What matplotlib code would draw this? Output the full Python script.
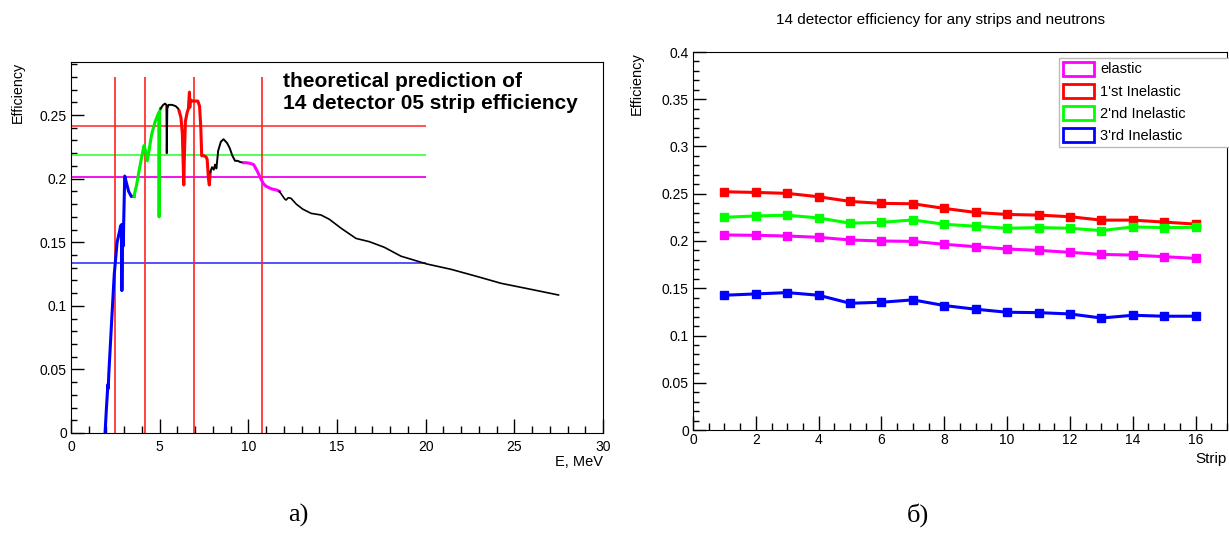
import matplotlib
matplotlib.use("Agg")
import matplotlib.pyplot as plt
from matplotlib.ticker import MultipleLocator, FuncFormatter
from matplotlib.patches import Patch

plt.rcParams["font.family"] = ["Liberation Sans", "DejaVu Sans"]

# ---- panel a): theoretical efficiency vs neutron energy, piece by piece ----
e_blue = [1.92, 2.0, 2.08, 2.10, 2.13, 2.3, 2.44, 2.6, 2.73, 2.8, 2.84, 2.86, 2.87, 2.89,
          2.93, 2.95, 2.97, 3.03, 3.1, 3.25, 3.4, 3.55]
eff_blue = [0.0, 0.02, 0.038, 0.035, 0.046, 0.09, 0.125, 0.15, 0.158, 0.163, 0.16, 0.164,
            0.112, 0.158, 0.16, 0.147, 0.165, 0.202, 0.198, 0.19, 0.186, 0.186]

e_green = [3.55, 3.7, 3.85, 4.0, 4.12, 4.2, 4.3, 4.4, 4.55, 4.75, 4.95, 4.97, 5.0, 5.05]
eff_green = [0.186, 0.195, 0.207, 0.218, 0.226, 0.222, 0.214, 0.222, 0.235, 0.245, 0.252,
             0.170, 0.253, 0.255]

e_black1 = [5.05, 5.2, 5.3, 5.38, 5.40, 5.43, 5.5, 5.7, 5.9, 6.05, 6.1]
eff_black1 = [0.255, 0.258, 0.259, 0.258, 0.22, 0.255, 0.258, 0.258, 0.257, 0.255, 0.253]

e_red = [6.1, 6.2, 6.28, 6.33, 6.36, 6.39, 6.45, 6.55, 6.62, 6.65, 6.68, 6.70, 6.72, 6.85,
         7.0, 7.15, 7.25, 7.32, 7.37, 7.5, 7.62, 7.68, 7.75, 7.8, 7.85]
eff_red = [0.253, 0.248, 0.235, 0.21, 0.195, 0.215, 0.245, 0.252, 0.255, 0.262, 0.268, 0.256,
           0.262, 0.261, 0.261, 0.261, 0.257, 0.24, 0.218, 0.218, 0.217, 0.215, 0.2, 0.195,
           0.205]

e_black2 = [7.85, 7.95, 8.05, 8.12, 8.2, 8.3, 8.45, 8.6, 8.8, 8.95, 9.1, 9.25, 9.4, 9.55, 9.75]
eff_black2 = [0.205, 0.209, 0.207, 0.211, 0.208, 0.222, 0.229, 0.231, 0.228, 0.224, 0.218,
              0.214, 0.214, 0.213, 0.2125]

e_mag = [9.75, 9.9, 10.1, 10.3, 10.5, 10.7, 10.85, 11.0, 11.3, 11.6, 11.75]
eff_mag = [0.2125, 0.2125, 0.212, 0.211, 0.206, 0.2, 0.196, 0.194, 0.192, 0.191, 0.19]

e_black3 = [11.75, 11.9, 12.05, 12.13, 12.25, 12.41, 12.7, 13.07, 13.54, 14.1, 14.57, 15.23,
            16.07, 16.83, 17.67, 18.61, 20.06, 21.43, 22.94, 24.25, 26.13, 27.49]
eff_black3 = [0.19, 0.187, 0.184, 0.1832, 0.185, 0.1845, 0.18, 0.176, 0.1727, 0.1714, 0.168,
              0.161, 0.153, 0.1504, 0.146, 0.139, 0.1329, 0.1287, 0.1229, 0.1177, 0.1124,
              0.1085]

# mean efficiencies (horizontal) and thresholds (vertical)
mean_levels = [0.2415, 0.2185, 0.201, 0.134]
mean_colors = ["#ff4444", "#44ff44", "#ee00ee", "#4444ff"]
thresholds = [2.5, 4.15, 6.92, 10.78]

# ---- panel б): efficiency per strip ----
strips = list(range(1, 17))
eff_elastic = [0.2064, 0.2060, 0.2053, 0.2039, 0.2011, 0.2000, 0.1996, 0.1965, 0.1940,
               0.1915, 0.1901, 0.1880, 0.1858, 0.1851, 0.1834, 0.1816]
eff_inel1 = [0.2521, 0.2514, 0.2504, 0.2468, 0.2419, 0.2398, 0.2394, 0.2345, 0.2302,
             0.2281, 0.2274, 0.2257, 0.2221, 0.2221, 0.2200, 0.2179]
eff_inel2 = [0.2251, 0.2265, 0.2273, 0.2244, 0.2188, 0.2198, 0.2223, 0.2177, 0.2156,
             0.2135, 0.2142, 0.2135, 0.2110, 0.2149, 0.2142, 0.2145]
eff_inel3 = [0.1426, 0.1440, 0.1454, 0.1426, 0.1341, 0.1352, 0.1377, 0.1317, 0.1278,
             0.1246, 0.1242, 0.1228, 0.1185, 0.1214, 0.1204, 0.1204]
series_names = ["elastic", "1'st Inelastic", "2'nd Inelastic", "3'rd Inelastic"]
series_colors = ["#ff00ff", "#ff0000", "#00ff00", "#0000ff"]

W, H = 1229, 533
fig = plt.figure(figsize=(W / 100, H / 100), dpi=100)

fmt = FuncFormatter(lambda v, p: f"{v:g}")


def root_axes(ax, xmaj, xmin, ymaj, ymin, xpad):
    ax.xaxis.set_major_locator(MultipleLocator(xmaj))
    ax.xaxis.set_minor_locator(MultipleLocator(xmin))
    ax.yaxis.set_major_locator(MultipleLocator(ymaj))
    ax.yaxis.set_minor_locator(MultipleLocator(ymin))
    ax.xaxis.set_major_formatter(fmt)
    ax.yaxis.set_major_formatter(fmt)
    ax.tick_params(which="both", direction="in", top=False, right=False,
                   labelsize=10, width=1)
    ax.tick_params(axis="x", which="major", length=10, pad=xpad)
    ax.tick_params(axis="x", which="minor", length=5)
    ax.tick_params(axis="y", which="major", length=9, pad=3)
    ax.tick_params(axis="y", which="minor", length=4.5)


# panel a
ax1 = fig.add_axes([71 / W, 1 - 433 / H, (603 - 71) / W, (433 - 62) / H])
ax1.set_xlim(0, 30)
ax1.set_ylim(0, 0.2917)
root_axes(ax1, 5, 1, 0.05, 0.01, 5)

for lv, c in zip(mean_levels, mean_colors):
    ax1.hlines(lv, 0, 20, color=c, lw=1.3)
ax1.vlines(thresholds, 0, 0.28, color="#ff2222", lw=1.2)

ax1.plot(e_blue, eff_blue, color="#0000ff", lw=2.2)
ax1.plot(e_green, eff_green, color="#00ee00", lw=2.2)
ax1.plot(e_black1, eff_black1, color="black", lw=1.4)
ax1.plot(e_red, eff_red, color="#ff0000", lw=2.2)
ax1.plot(e_black2, eff_black2, color="black", lw=1.4)
ax1.plot(e_mag, eff_mag, color="#ff00ff", lw=2.2)
ax1.plot(e_black3, eff_black3, color="black", lw=1.2)

ax1.text(0.398, 0.972, "theoretical prediction of\n14 detector 05 strip efficiency",
         transform=ax1.transAxes, ha="left", va="top", fontsize=15, fontweight="bold")
ax1.text(-0.1, 1.0, "Efficiency", transform=ax1.transAxes, rotation=90,
         ha="center", va="top", fontsize=10.3)
ax1.text(1.0, -0.078, "E, MeV", transform=ax1.transAxes, ha="right", va="center",
         fontsize=10.5)

# panel б
ax2 = fig.add_axes([693 / W, 1 - 430 / H, (1227 - 693) / W, (430 - 52) / H])
ax2.set_xlim(0, 17)
ax2.set_ylim(0, 0.4)
root_axes(ax2, 2, 0.5, 0.05, 0.01, 2.5)

all_series = [eff_elastic, eff_inel1, eff_inel2, eff_inel3]
for vals, c in zip(all_series, series_colors):
    ax2.plot(strips, vals, color=c, lw=2.2, marker="s", markersize=6)

handles = [Patch(facecolor="white", edgecolor=c, linewidth=2) for c in series_colors]
leg = ax2.legend(handles, series_names, loc="lower left", mode="expand",
                 bbox_to_anchor=(0.686, 0.749, 0.33, 0.251), borderaxespad=0,
                 fontsize=10.5, handlelength=2.1, handleheight=1.1, handletextpad=0.45,
                 labelspacing=0.5, borderpad=0.25, fancybox=False, framealpha=1,
                 edgecolor="#bbbbbb")
leg.get_frame().set_linewidth(1)
leg.set_zorder(5)

ax2.text(-0.105, 1.0, "Efficiency", transform=ax2.transAxes, rotation=90,
         ha="center", va="top", fontsize=10.5)
ax2.text(1.0, -0.078, "Strip", transform=ax2.transAxes, ha="right", va="center",
         fontsize=11)
fig.text(940 / W, 1 - 20 / H, "14 detector efficiency for any strips and neutrons",
         ha="center", va="center", fontsize=11)

# sub-figure captions
fig.text(298 / W, 1 - 515 / H, "a)", ha="center", va="center", fontsize=19,
         family="Liberation Serif")
fig.text(918 / W, 1 - 515 / H, "б)", ha="center", va="center", fontsize=19,
         family="Liberation Serif")

fig.savefig("out.png", dpi=100)
